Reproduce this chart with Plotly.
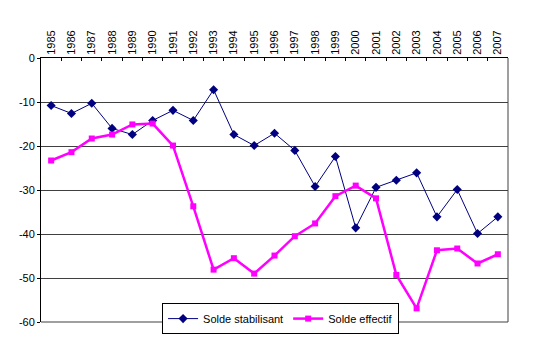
import plotly.graph_objects as go

years = [str(y) for y in range(1985, 2008)]

solde_stabilisant = [-10.8, -12.6, -10.3, -16.0, -17.4, -14.2, -11.9, -14.2, -7.2, -17.4,
                     -19.9, -17.1, -21.0, -29.2, -22.4, -38.6, -29.4, -27.8, -26.1, -36.1,
                     -29.9, -39.9, -36.1]
solde_effectif = [-23.3, -21.4, -18.3, -17.4, -15.1, -14.9, -19.9, -33.7, -48.1, -45.5,
                  -49.0, -44.9, -40.5, -37.6, -31.4, -29.0, -31.9, -49.3, -56.9, -43.7,
                  -43.3, -46.7, -44.6]

y_ticks = [0, -10, -20, -30, -40, -50, -60]
y_tick_labels = ["0", "-10", "-20", "-30", "-40", "-50", "-60"]

font = dict(family="Liberation Sans, Arial, sans-serif", size=11, color="black")

fig = go.Figure()
fig.add_trace(go.Scatter(
    x=years, y=solde_stabilisant, name="Solde stabilisant",
    mode="lines+markers",
    line=dict(color="#000080", width=1),
    marker=dict(symbol="diamond", size=7, color="#000080"),
))
fig.add_trace(go.Scatter(
    x=years, y=solde_effectif, name="Solde effectif",
    mode="lines+markers",
    line=dict(color="#FF00FF", width=2.5),
    marker=dict(symbol="square", size=6, color="#FF00FF"),
))

fig.update_layout(
    width=536, height=337,
    margin=dict(l=41, r=28, t=58, b=15, autoexpand=False),
    paper_bgcolor="white", plot_bgcolor="white",
    font=font,
    showlegend=True,
    legend=dict(
        orientation="h", x=0.513, xanchor="center",
        yref="container", y=1 - 318.6 / 337, yanchor="middle",
        bgcolor="white", bordercolor="black", borderwidth=1,
        font=font, itemwidth=30, tracegroupgap=0,
    ),
    xaxis=dict(
        type="category", side="top", range=[-0.5, 22.5],
        tickangle=-90, ticks="inside", ticklen=3, tickcolor="black",
        tickson="boundaries",
        showline=True, linecolor="black", linewidth=1,
        showgrid=False, zeroline=False, fixedrange=True,
    ),
    yaxis=dict(
        range=[-60, 0], tickvals=y_ticks, ticktext=y_tick_labels,
        ticks="outside", ticklen=3, tickcolor="black",
        showline=True, linecolor="black", linewidth=1,
        showgrid=True, gridcolor="#404040", gridwidth=1,
        zeroline=False, fixedrange=True,
    ),
    shapes=[
        dict(type="line", xref="paper", yref="paper", x0=1, x1=1, y0=0, y1=1,
             line=dict(color="#404040", width=1)),
        dict(type="line", xref="paper", yref="paper", x0=0, x1=1, y0=0, y1=0,
             line=dict(color="#404040", width=1), layer="below"),
    ],
)

fig.write_html("out.html")
